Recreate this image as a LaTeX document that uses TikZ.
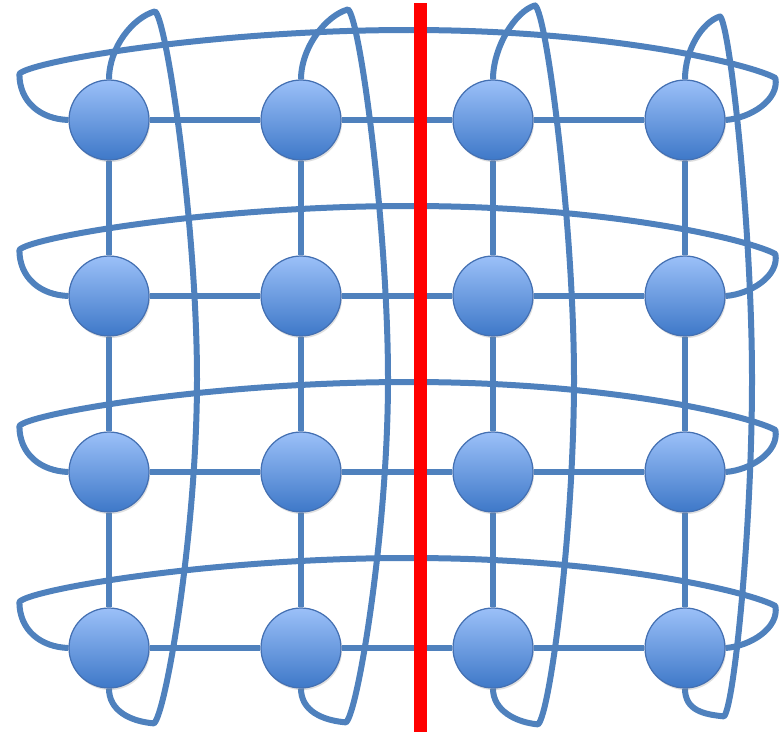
\documentclass[tikz,border=0pt]{standalone}
\usetikzlibrary{shadows,backgrounds}
\definecolor{gridblue}{RGB}{79,129,189}
\definecolor{balltop}{RGB}{155,192,248}
\definecolor{ballbot}{RGB}{62,120,200}
\definecolor{ballrim}{RGB}{68,112,178}
\begin{document}
\begin{tikzpicture}[x=.02cm,y=-.02cm,
  vertex/.style={circle,draw=ballrim,line width=.7pt,top color=balltop,
    bottom color=ballbot,minimum size=1.6cm,inner sep=0pt,
    drop shadow={opacity=.25,shadow xshift=.6pt,shadow yshift=-1.2pt}},
  link/.style={draw=gridblue,line width=.12cm},
  wrap/.style={draw=gridblue,line width=.12cm,line join=round},
  cutline/.style={fill=red}]
\useasboundingbox (0,0) rectangle (784,737);
\node[vertex] (v11) at (109,120) {};
\node[vertex] (v12) at (301,120) {};
\node[vertex] (v13) at (493,120) {};
\node[vertex] (v14) at (685,120) {};
\node[vertex] (v21) at (109,296) {};
\node[vertex] (v22) at (301,296) {};
\node[vertex] (v23) at (493,296) {};
\node[vertex] (v24) at (685,296) {};
\node[vertex] (v31) at (109,472) {};
\node[vertex] (v32) at (301,472) {};
\node[vertex] (v33) at (493,472) {};
\node[vertex] (v34) at (685,472) {};
\node[vertex] (v41) at (109,648) {};
\node[vertex] (v42) at (301,648) {};
\node[vertex] (v43) at (493,648) {};
\node[vertex] (v44) at (685,648) {};
\begin{scope}[on background layer]
% wrap-around rows
\path[wrap] (v11.west) .. controls +(-28,-1) and +(0,28) .. ++(-49,-46)
  .. controls +(8,-12) and +(-200,0) .. ++(390,-44)
  .. controls +(200,0) and +(-25,-14) .. ++(366,48)
  .. controls +(4,22) and +(25,-2) .. (v14.east);
\path[wrap] (v21.west) .. controls +(-28,-1) and +(0,28) .. ++(-49,-46)
  .. controls +(8,-12) and +(-200,0) .. ++(390,-44)
  .. controls +(200,0) and +(-25,-14) .. ++(366,48)
  .. controls +(4,22) and +(25,-2) .. (v24.east);
\path[wrap] (v31.west) .. controls +(-28,-1) and +(0,28) .. ++(-49,-46)
  .. controls +(8,-12) and +(-200,0) .. ++(390,-44)
  .. controls +(200,0) and +(-25,-14) .. ++(366,48)
  .. controls +(4,22) and +(25,-2) .. (v34.east);
\path[wrap] (v41.west) .. controls +(-28,-1) and +(0,28) .. ++(-49,-46)
  .. controls +(8,-12) and +(-200,0) .. ++(390,-44)
  .. controls +(200,0) and +(-25,-14) .. ++(366,48)
  .. controls +(4,22) and +(25,-2) .. (v44.east);
% wrap-around columns
\path[wrap] (v11.north) .. controls +(0,-32) and +(-22,6) .. ++(46,-68)
  .. controls +(12,8) and +(0,-150) .. ++(42,368)
  .. controls +(0,150) and +(12,-10) .. ++(-43,344)
  .. controls +(-24,-2) and +(0,22) .. (v41.south);
\path[wrap] (v12.north) .. controls +(0,-32) and +(-22,6) .. ++(47,-70)
  .. controls +(12,8) and +(0,-150) .. ++(40,370)
  .. controls +(0,150) and +(12,-10) .. ++(-42,343)
  .. controls +(-24,-2) and +(0,22) .. (v42.south);
\path[wrap] (v13.north) .. controls +(0,-32) and +(-20,6) .. ++(42,-74)
  .. controls +(12,8) and +(0,-150) .. ++(39,374)
  .. controls +(0,150) and +(12,-10) .. ++(-36,345)
  .. controls +(-22,-2) and +(0,22) .. (v43.south);
\path[wrap] (v14.north) .. controls +(0,-30) and +(-18,6) .. ++(35,-63)
  .. controls +(10,8) and +(0,-150) .. ++(32,363)
  .. controls +(0,150) and +(10,-10) .. ++(-28,337)
  .. controls +(-20,-2) and +(0,22) .. (v44.south);
% mesh links
\path[link] (v11) -- (v12);
\path[link] (v12) -- (v13);
\path[link] (v13) -- (v14);
\path[link] (v21) -- (v22);
\path[link] (v22) -- (v23);
\path[link] (v23) -- (v24);
\path[link] (v31) -- (v32);
\path[link] (v32) -- (v33);
\path[link] (v33) -- (v34);
\path[link] (v41) -- (v42);
\path[link] (v42) -- (v43);
\path[link] (v43) -- (v44);
\path[link] (v11) -- (v21);
\path[link] (v21) -- (v31);
\path[link] (v31) -- (v41);
\path[link] (v12) -- (v22);
\path[link] (v22) -- (v32);
\path[link] (v32) -- (v42);
\path[link] (v13) -- (v23);
\path[link] (v23) -- (v33);
\path[link] (v33) -- (v43);
\path[link] (v14) -- (v24);
\path[link] (v24) -- (v34);
\path[link] (v34) -- (v44);
\end{scope}
% bisection cut
\fill[cutline] (414,3) rectangle (427,732);
\end{tikzpicture}
\end{document}
